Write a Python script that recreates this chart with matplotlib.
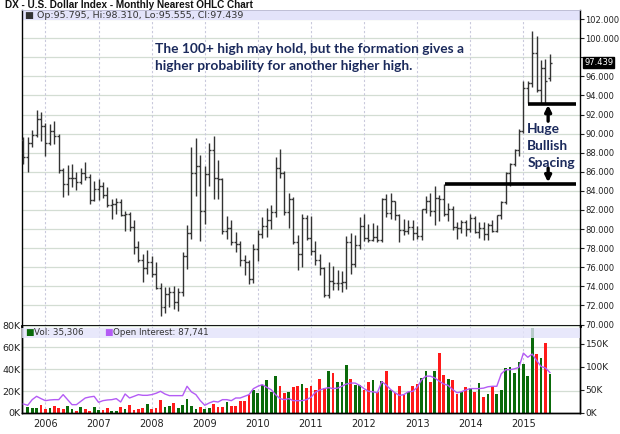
import matplotlib
matplotlib.use("Agg")
import matplotlib.pyplot as plt
from matplotlib.patches import Rectangle

# monthly bars, Aug 2005 .. Jul 2015
start_year, start_month = 2005, 8
opens = [89.3, 87.5, 89.0, 89.9, 91.5, 90.8, 89.0, 90.3, 89.8, 86.2,
         84.7, 85.3, 85.4, 84.9, 85.9, 85.5, 83.0, 84.2, 84.5, 83.6,
         82.5, 82.6, 82.8, 81.5, 81.6, 80.2, 78.1, 76.8, 75.9, 76.6,
         75.3, 73.8, 71.8, 73.2, 73.4, 72.4, 73.4, 77.2, 79.6, 85.9,
         86.6, 81.9, 85.8, 88.3, 85.4, 85.2, 79.8, 80.1, 78.6, 78.4,
         76.8, 76.6, 74.8, 77.9, 79.5, 80.3, 81.0, 81.8, 86.4, 85.9,
         81.8, 83.1, 78.6, 77.4, 81.2, 79.1, 77.7, 76.8, 75.9, 73.1,
         74.6, 74.3, 74.4, 74.5, 78.6, 76.3, 78.3, 80.3, 79.1, 78.9,
         79.2, 78.9, 83.1, 81.7, 82.9, 81.5, 79.9, 79.8, 80.2, 79.6,
         79.3, 82.1, 82.9, 81.9, 83.3, 83.2, 81.6, 82.1, 80.2, 80.1,
         80.7, 80.0, 81.2, 79.7, 80.1, 79.5, 80.4, 79.8, 81.5, 82.8,
         85.9, 86.8, 88.3, 90.3, 94.8, 95.3, 98.4, 94.6, 96.9, 95.795]
highs = [89.6, 89.6, 90.4, 92.5, 92.3, 91.1, 91.0, 91.3, 90.0, 86.4,
         86.7, 86.8, 86.0, 86.4, 87.0, 85.8, 85.0, 85.2, 84.9, 84.4,
         83.1, 83.3, 83.1, 81.9, 81.8, 81.0, 78.8, 77.4, 77.8, 77.2,
         76.5, 74.3, 73.9, 73.9, 74.0, 73.8, 77.6, 80.4, 88.6, 89.5,
         87.8, 86.6, 89.0, 89.8, 87.2, 85.4, 81.4, 80.9, 79.7, 78.7,
         77.3, 76.8, 78.4, 79.9, 81.3, 82.2, 82.5, 87.5, 88.4, 86.1,
         83.8, 83.4, 79.4, 81.6, 81.5, 81.4, 78.8, 77.4, 76.0, 76.5,
         76.1, 75.7, 75.6, 79.3, 79.6, 79.4, 81.3, 81.6, 80.5, 80.6,
         80.4, 83.3, 83.7, 83.8, 82.9, 81.6, 81.1, 80.9, 80.9, 80.3,
         82.1, 83.5, 83.8, 84.5, 83.6, 84.7, 82.7, 82.4, 80.7, 81.0,
         80.9, 81.6, 81.4, 80.7, 80.7, 80.6, 81.0, 81.5, 82.9, 86.0,
         86.9, 88.4, 90.5, 95.5, 95.5, 100.7, 100.2, 97.7, 97.8, 98.31]
lows = [86.8, 86.0, 88.6, 89.6, 89.2, 87.7, 88.8, 88.9, 85.9, 83.4,
        83.6, 84.4, 84.1, 84.7, 85.1, 82.6, 82.9, 83.0, 83.3, 82.3,
        81.1, 81.6, 81.4, 79.8, 79.85, 77.4, 76.6, 74.5, 75.3, 75.0,
        73.7, 70.9, 71.2, 71.8, 71.6, 71.4, 73.0, 75.8, 79.0, 83.5,
        78.8, 80.5, 84.5, 83.1, 83.2, 79.5, 79.0, 78.3, 77.6, 76.1,
        75.2, 74.2, 74.3, 76.7, 79.1, 79.2, 80.0, 81.3, 85.3, 81.5,
        80.1, 78.4, 75.7, 76.0, 78.9, 77.3, 76.2, 75.2, 72.9, 72.8,
        73.6, 73.6, 73.4, 73.7, 75.3, 76.0, 77.9, 78.7, 78.6, 78.8,
        78.6, 78.6, 81.3, 81.1, 80.9, 78.6, 79.4, 79.5, 78.9, 79.0,
        78.9, 81.7, 81.4, 80.4, 80.8, 81.4, 80.8, 79.9, 79.0, 79.6,
        79.3, 79.7, 79.6, 79.1, 78.9, 78.9, 79.7, 79.7, 81.1, 82.6,
        84.5, 86.6, 87.7, 90.1, 93.2, 94.9, 94.4, 93.1, 93.1, 95.555]
closes = [87.5, 89.0, 89.9, 91.5, 90.8, 89.0, 90.3, 89.8, 86.2, 84.7,
          85.3, 85.4, 84.9, 85.9, 85.5, 83.0, 84.2, 84.5, 83.6, 82.5,
          82.6, 82.8, 81.5, 81.6, 80.2, 78.1, 76.8, 75.9, 76.6, 75.3,
          73.8, 71.8, 73.2, 73.4, 72.4, 73.4, 77.2, 79.6, 85.9, 86.6,
          81.9, 85.8, 88.3, 85.4, 85.2, 79.8, 80.1, 78.6, 78.4, 76.8,
          76.6, 74.8, 77.9, 79.5, 80.3, 81.0, 81.8, 86.4, 85.9, 81.8,
          83.1, 78.6, 77.4, 81.2, 79.1, 77.7, 76.8, 75.9, 73.1, 74.6,
          74.3, 74.4, 74.5, 78.6, 76.3, 78.3, 80.3, 79.1, 78.9, 79.2,
          78.9, 83.1, 81.7, 82.9, 81.5, 79.9, 79.8, 80.2, 79.6, 79.3,
          82.1, 82.9, 81.9, 83.3, 83.2, 81.6, 82.1, 80.2, 80.1, 80.7,
          80.0, 81.2, 79.7, 80.1, 79.5, 80.4, 79.8, 81.5, 82.8, 85.9,
          86.8, 88.3, 90.3, 94.8, 95.3, 98.4, 94.6, 96.9, 95.5, 97.439]

# volume and open interest, thousands of contracts
volume = [0, 5.2, 4.6, 4.6, 7.7, 3.7, 4.6, 6.8, 4.6, 3.7,
          6.2, 3.7, 2.2, 5.2, 3.7, 2.2, 5.2, 2.5, 3.1, 4.6,
          2.2, 1.8, 5.8, 4.0, 7.7, 3.1, 3.7, 4.6, 8.6, 3.7,
          4.6, 11.7, 5.5, 6.2, 9.5, 4.9, 7.1, 13.2, 6.2, 3.7,
          5.8, 3.7, 4.6, 8.3, 5.2, 5.8, 9.8, 6.2, 6.5, 11.4,
          11.4, 16.6, 21.2, 18.2, 25.8, 30.2, 19.4, 34.2, 24.6, 18.2,
          19.4, 24.0, 24.6, 26.2, 22.5, 24.6, 20.6, 31, 23, 38,
          37, 28, 28, 44, 31, 26, 26, 20.6, 28, 30,
          19, 29, 38, 20.6, 18, 24.6, 16.6, 19, 25, 26.5,
          32, 38.5, 28, 38.5, 55, 34.5, 31, 30.5, 17.5, 19,
          24, 22.5, 19.4, 27, 15, 17, 24.6, 17, 20.6, 41,
          42, 37, 47, 45, 34, 78, 54, 50, 64, 35.306]
open_interest = [19.6, 16.7, 29, 36.2, 31.2, 26.8, 28.3, 29, 29, 39.9,
                 29, 18.1, 18.1, 25.4, 32.6, 34.8, 36.2, 23.2, 26.8, 28.3,
                 29, 31.2, 23.9, 41.3, 32.6, 36.2, 39.9, 38.4, 38.4, 39.9,
                 42.8, 47.1, 41.3, 37.7, 37.7, 37.7, 37.7, 58, 45.7, 39.9,
                 26.8, 16.7, 21.7, 25.4, 23.9, 29, 29, 26.8, 32.6, 32.6,
                 36.2, 39.9, 52.9, 58, 61.6, 55.8, 50.7, 39.9, 31.2, 29,
                 31.2, 26.8, 26.8, 26.8, 29, 34, 45, 50, 53, 55,
                 53, 54, 58, 63, 65, 65, 60, 53, 47, 46,
                 44, 68, 61, 51, 44, 38, 40, 46, 47, 56,
                 72, 80, 80, 76, 69, 63, 60, 51, 44, 46,
                 50, 53, 53, 53, 54, 57, 58, 58, 85, 94,
                 94, 96, 99, 130, 121, 128, 114, 101, 98, 87.741]

years = list(range(2006, 2016))
price_ticks = list(range(70, 103, 2))
vol_ticks = [0, 20, 40, 60, 80]
oi_ticks = [0, 50, 100, 150]

n = len(closes)
x = list(range(n))
year_pos = [(y - start_year) * 12 + (1 - start_month) for y in years]

up = [i == 0 or closes[i] >= closes[i - 1] for i in range(n)]
vol_colors = ['#0a6a0a' if u else '#ff1a1a' for u in up]

W, H = 620, 434
fig = plt.figure(figsize=(W / 100, H / 100), dpi=100)
L, R = 22, 580
top_p, mid, bot = 10, 325.5, 413
ax = fig.add_axes([L / W, 1 - mid / H, (R - L) / W, (mid - top_p) / H])
axv = fig.add_axes([L / W, 1 - bot / H, (R - L) / W, (bot - mid) / H], sharex=ax)
axo = axv.twinx()

grid_c = '#d3ddd3'
vgrid_c = '#c9c9dc'
tick_c = '#222222'

# ---- price panel ----
ax.set_xlim(-0.3, 125.8)
ax.set_ylim(69.9, 102.95)
for p in price_ticks:
    ax.axhline(p, color=grid_c, lw=0.9, zorder=0)
for yp in year_pos:
    ax.axvline(yp, color=vgrid_c, lw=0.8, ls=(0, (2, 2)), zorder=0)

bar_c = '#333333'
ax.vlines(x, lows, highs, color=bar_c, lw=1.0, zorder=3)
ax.hlines(opens, [i - 0.45 for i in x], x, color=bar_c, lw=1.0, zorder=3)
ax.hlines(closes, x, [i + 0.45 for i in x], color=bar_c, lw=1.0, zorder=3)

ax.yaxis.tick_right()
ax.set_yticks(price_ticks)
# the 98 label sits under the last-price box
ax.set_yticklabels(['' if p == 98 else '%.3f' % p for p in price_ticks])
ax.tick_params(axis='y', labelsize=6.0, length=3, width=0.8, colors=tick_c, pad=1)
ax.tick_params(axis='x', bottom=False, labelbottom=False)
for s in ['left', 'right']:
    ax.spines[s].set_linewidth(1.0)
ax.spines['top'].set_color('#b8b8d0')
ax.spines['top'].set_linewidth(0.6)
ax.spines['bottom'].set_linewidth(2.0)

# legend band
band_h = 10 / (mid - top_p)
ax.add_patch(Rectangle((0, 1 - band_h), 1, band_h, transform=ax.transAxes,
                       facecolor='#e3e3fa', edgecolor='none', zorder=1))
ax.text(3 / (R - L), 1 - band_h / 2, '\u25a0 Op:95.795, Hi:98.310, Lo:95.555, Cl:97.439',
        transform=ax.transAxes, fontsize=6.8, color='#333333', va='center', ha='left', zorder=5)

# last price box
ax.text(1.0075, closes[-1], '%.3f' % closes[-1], transform=ax.get_yaxis_transform(),
        fontsize=6.0, color='white', va='center', ha='left',
        bbox=dict(facecolor='black', edgecolor='black', pad=0.8), clip_on=False, zorder=6)

# annotations
navy = '#1b2a5c'
ax.text(29.8, 98.9, 'The 100+ high may hold, but the formation gives a',
        fontsize=9.9, fontweight='bold', color=navy, family='Lato', va='center')
ax.text(29.8, 97.1, 'higher probability for another higher high.',
        fontsize=9.9, fontweight='bold', color=navy, family='Lato', va='center')
for txt, yy in [('Huge', 90.5), ('Bullish', 88.7), ('Spacing', 86.9)]:
    ax.text(113.9, yy, txt, fontsize=9.9, fontweight='bold', color=navy,
            family='Lato', va='center', ha='left', zorder=6)
ax.hlines(93.07, 114.0, 125.0, color='black', lw=2.6, zorder=4)
ax.hlines(84.77, 95.3, 125.0, color='black', lw=2.6, zorder=4)
ax.annotate('', xy=(118.6, 93.0), xytext=(118.6, 91.3),
            arrowprops=dict(arrowstyle='-|>', color='black', lw=2.4, mutation_scale=9,
                            shrinkA=0, shrinkB=0))
ax.annotate('', xy=(118.6, 84.9), xytext=(118.6, 86.4),
            arrowprops=dict(arrowstyle='-|>', color='black', lw=2.4, mutation_scale=9,
                            shrinkA=0, shrinkB=0))

# ---- volume panel ----
axv.set_ylim(0, 80)
axo.set_ylim(0, 190)
for v in vol_ticks[1:]:
    axv.axhline(v, color=grid_c, lw=0.9, zorder=0)
for yp in year_pos:
    axv.axvline(yp, color=vgrid_c, lw=0.8, ls=(0, (2, 2)), zorder=0)
axv.bar(x, volume, width=0.62, color=vol_colors, zorder=2)
axo.plot(x, open_interest, color='#b45cf5', lw=1.0, zorder=3)

axv.set_yticks(vol_ticks)
axv.set_yticklabels(['%dK' % v for v in vol_ticks])
axv.tick_params(axis='y', labelsize=6.8, length=0, colors=tick_c, pad=1)
axo.set_yticks(oi_ticks)
axo.set_yticklabels(['%dK' % v for v in oi_ticks])
axo.tick_params(axis='y', labelsize=6.5, length=3, width=0.8, colors=tick_c, pad=1)
axv.set_xticks(year_pos)
axv.set_xticklabels([str(y) for y in years])
axv.tick_params(axis='x', labelsize=7, length=0, colors=tick_c, pad=4)
for a in (axv, axo):
    for s in ['left', 'right', 'bottom']:
        a.spines[s].set_linewidth(1.0)
    a.spines['top'].set_visible(False)

vband_h = 10 / (bot - mid)
vband_y = 1 - 12 / (bot - mid)
axo.add_patch(Rectangle((0, vband_y), 1, vband_h, transform=axo.transAxes,
                        facecolor='#e3e3fa', edgecolor='none', alpha=0.8, zorder=4))
axo.text(3 / (R - L), vband_y + vband_h / 2, '\u25a0', color='#0a6a0a', fontsize=6.5,
         transform=axo.transAxes, va='center', zorder=5)
axo.text(12 / (R - L), vband_y + vband_h / 2, 'Vol: 35,306', color='#333333', fontsize=6.3,
         transform=axo.transAxes, va='center', zorder=5)
axo.text(82 / (R - L), vband_y + vband_h / 2, '\u25a0', color='#b45cf5', fontsize=6.5,
         transform=axo.transAxes, va='center', zorder=5)
axo.text(91 / (R - L), vband_y + vband_h / 2, 'Open Interest: 87,741', color='#333333',
         fontsize=6.3, transform=axo.transAxes, va='center', zorder=5)

fig.text(5 / W, 1 - 5.5 / H, 'DX - U.S. Dollar Index - Monthly Nearest OHLC Chart',
         fontsize=7.2, fontweight='bold', family='Liberation Sans', color='#111111',
         va='center', ha='left')

fig.savefig('out.png', dpi=100)
